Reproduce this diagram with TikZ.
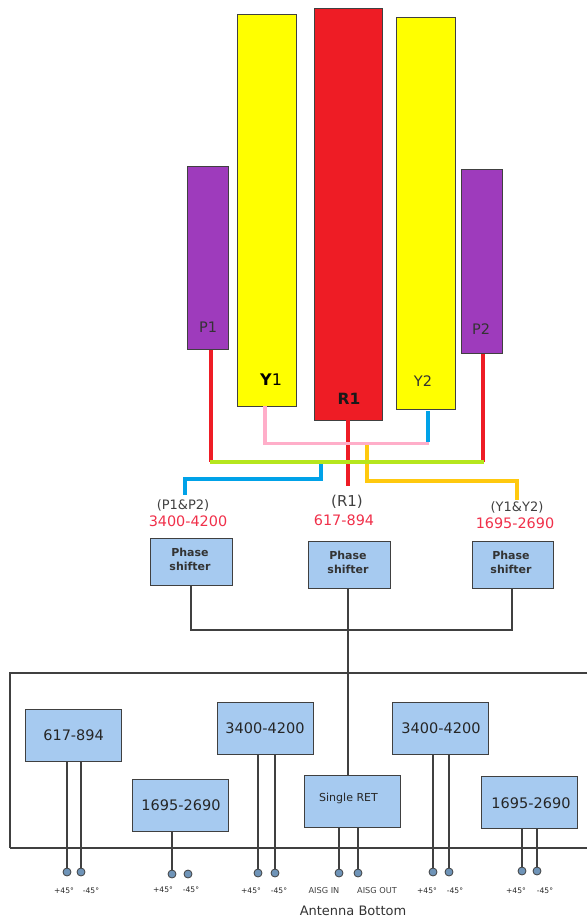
\documentclass[tikz,border=0pt]{standalone}
\usepackage{fontspec}
\setmainfont{DejaVu Sans}
\definecolor{purp}{HTML}{9E3BBC}
\definecolor{redb}{HTML}{EE1C25}
\definecolor{yelb}{HTML}{FFFF00}
\definecolor{boxb}{HTML}{A6CAF0}
\definecolor{dotc}{HTML}{6F94B8}
\definecolor{pinkl}{HTML}{FFAEC9}
\definecolor{greenl}{HTML}{B5E61D}
\definecolor{bluel}{HTML}{00A2E8}
\definecolor{orl}{HTML}{FFC90E}
\definecolor{txtr}{HTML}{F0304A}
\definecolor{dark}{HTML}{404040}
\tikzset{
 bar/.style={draw=dark,line width=1.2pt,inner sep=0pt,minimum width=#1,anchor=north west},
 blk/.style={draw=dark,fill=boxb,line width=1.2pt,inner sep=0pt,anchor=north west,align=center},
 wire/.style={line width=3.3pt,line cap=butt,line join=miter},
 thin wire/.style={draw=dark,line width=1.05pt},
 lead/.style={draw=dark,line width=1.2pt},
 pindot/.style={circle,draw=dark,fill=dotc,line width=.8pt,minimum size=8pt,inner sep=0pt},
 pinlab/.style={font=\fontsize{7.6}{9}\selectfont,inner sep=0pt,text=black!85},
 aisg/.style={font=\fontsize{8.2}{9}\selectfont,inner sep=0pt,text=black!75},
 freq/.style={font=\fontsize{14.4}{16}\selectfont,text=txtr,inner sep=0pt},
 band/.style={font=\fontsize{13}{15}\selectfont,text=black!75,inner sep=0pt},
 barlab/.style={font=\fontsize{14.5}{16}\selectfont,text=black!80,inner sep=0pt},
 pstext/.style={font=\bfseries\fontsize{11}{14}\selectfont,align=center,text=black!80,inner sep=0pt},
 ptext/.style={font=\fontsize{14.5}{16}\selectfont,text=black!85,inner sep=0pt},
}
\begin{document}
\begin{tikzpicture}[x=1pt,y=-1pt]
\useasboundingbox (0,0) rectangle (587,919);
% radiating bars
\node[bar=41pt,fill=purp,minimum height=183pt] (p1) at (187,166) {};
\node[bar=41pt,fill=purp,minimum height=184pt] (p2) at (461,169) {};
\node[bar=59pt,fill=yelb,minimum height=392pt] (y1) at (237,14) {};
\node[bar=68pt,fill=redb,minimum height=412pt] (r1) at (314,8) {};
\node[bar=59pt,fill=yelb,minimum height=392pt] (y2) at (396,17) {};
\node[barlab] (tp1) at (208,327) {P1};
\node[barlab] (tp2) at (481,329) {P2};
\node[font=\fontsize{16}{18}\selectfont,inner sep=0pt] (ty1) at (271,380) {\textbf{Y}1};
\node[barlab] (ty2) at (423,381) {Y2};
\node[font=\bfseries\fontsize{15.5}{17}\selectfont,text=black!90,inner sep=0pt] (tr1) at (349,399) {R1};
% coordinates
\coordinate (pa) at (p1.south -| 211,0);
\coordinate (pb) at (p2.south -| 483,0);
\coordinate (ga) at (210,462);
\coordinate (gb) at (484,462);
\coordinate (ya) at (265,406);
\coordinate (yb) at (428,411);
\coordinate (ra) at (348,420);
\coordinate (rb) at (348,486);
\coordinate (ba) at (321,463);
\coordinate (bb) at (185,495);
\coordinate (oa) at (367,444);
\coordinate (ob) at (517,500);
% coloured wires
\draw[wire,redb] (ra) -- (rb);
\draw[wire,redb] (pa) -- (211,462);
\draw[wire,redb] (pb) -- (483,462);
\draw[wire,bluel] (yb) -- (428,442);
\draw[wire,orl] (oa) -- (367,481) -- (517,481) -- (ob);
\draw[wire,bluel] (ba) -- (321,479) -- (185,479) -- (bb);
\draw[wire,pinkl] (ya) -- (265,443.5) -- (429,443.5);
\draw[wire,greenl] (ga) -- (gb);
% band labels
\node[band] (l1) at (183,505) {(P1\&P2)};
\node[freq] (f1) at (188,521) {3400-4200};
\node[font=\fontsize{15}{17}\selectfont,text=black!75,inner sep=0pt] (l2) at (347,502) {(R1)};
\node[freq] (f2) at (344,520) {617-894};
\node[band] (l3) at (517,507) {(Y1\&Y2)};
\node[freq] (f3) at (515,523) {1695-2690};
% phase shifters
\tikzset{ps/.style={blk,minimum width=#1,minimum height=47pt}}
\node[ps=82pt] (s1) at (150,538) {};
\node[ps=82pt] (s2) at (308,541) {};
\node[ps=81pt] (s3) at (472,541) {};
\node[pstext] (t1) at (190,559) {Phase\\shifter};
\node[pstext] (t2) at (348,562) {Phase\\shifter};
\node[pstext] (t3) at (511,562) {Phase\\shifter};
% antenna bottom box
\draw[dark,line width=1.05pt] (587,673) -- (10,673) -- (10,848);
\draw[dark,line width=1.5pt] (10,848) -- (587,848);
% ports
\tikzset{pb/.style={blk,minimum width=96pt,minimum height=52pt}}
\node[pb] (a1) at (25,709) {};
\node[pb] (a2) at (132,779) {};
\node[pb] (a3) at (217,702) {};
\node[pb] (a4) at (304,775) {};
\node[pb] (a5) at (392,702) {};
\node[pb] (a6) at (481,776) {};
\node[ptext] at (a1.center) {617-894};
\node[ptext] at (181,805) {1695-2690};
\node[ptext] at (265,728) {3400-4200};
\node[font=\fontsize{11}{13}\selectfont,text=black!85,inner sep=0pt] at (348.5,798) {Single RET};
\node[ptext] at (441,728) {3400-4200};
\node[ptext] at (531,803) {1695-2690};
% phase shifter wiring
\draw[thin wire] (s1.south -| 191,0) -- (191,630) -- (512,630) -- (s3.south -| 512,0);
\draw[thin wire] (s2.south -| 348,0) -- (a4.north -| 348,0);
% pins
\foreach \n/\x/\y/\b in {d1/67/872/a1,d2/81/872/a1,d3/172/874/a2,d5/258/873/a3,d6/275/873/a3,d7/339/873/a4,d8/358/873/a4,d9/433/872/a5,d10/449/872/a5,d11/522/871/a6,d12/537/871/a6}{
  \node[pindot] (\n) at (\x,\y) {};
  \draw[lead] (\b.south -| \n) -- (\n);
}
\node[pindot] (d4) at (188,874) {};
\foreach \x/\y/\t in {64/891/+45°,91/891/-45°,163/890/+45°,191/890/-45°,251/891/+45°,279/891/-45°,427/891/+45°,455/891/-45°,516/891/+45°,545/891/-45°}{
  \node[pinlab] at (\x,\y) {\t};
}
\node[aisg] (ai) at (324,891) {AISG IN};
\node[aisg] (ao) at (377,891) {AISG OUT};
\node[font=\fontsize{13}{15}\selectfont,text=black!80,inner sep=0pt] (ab) at (353,911) {Antenna Bottom};
\end{tikzpicture}
\end{document}
